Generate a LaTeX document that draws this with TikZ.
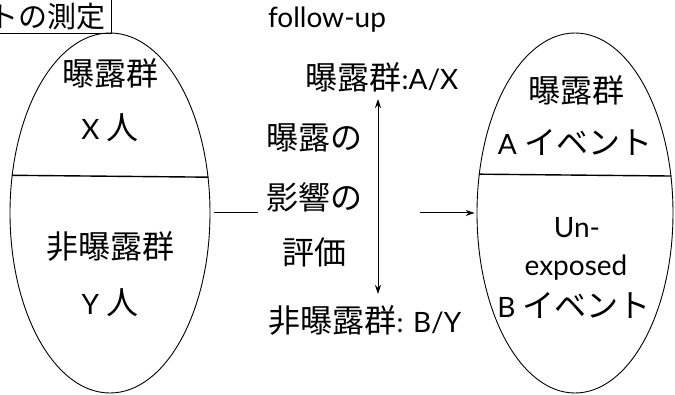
\documentclass[tikz,border=0pt]{standalone}
\usepackage{fontspec}
\setmainfont{Lato}
\newfontfamily\cjk{Noto Sans CJK JP}
\newcommand\jptext[1]{{\cjk\fontsize{32}{36}\selectfont #1}}
\usetikzlibrary{shapes.geometric,arrows.meta}
\tikzset{
  oval/.style={ellipse, draw, line width=0.9pt, inner sep=0pt},
  txt/.style={inner sep=0pt, font=\fontsize{28}{32}\selectfont},
  jp/.style={inner sep=0pt, font=\cjk\fontsize{32}{36}\selectfont},
  divline/.style={line width=1.4pt},
  conn/.style={line width=1pt},
  tip/.style={-{Stealth[length=9pt,width=6pt]}}
}
\begin{document}
\begin{tikzpicture}[x=1pt,y=-1pt]
\useasboundingbox (0,0) rectangle (675,395);
\clip (0,0) rectangle (675,395);

% top-left box
\node[draw, line width=0.8pt, anchor=north east, minimum height=34pt, inner xsep=6pt,
      font=\cjk\fontsize{29}{32}\selectfont] (box) at (112,-1) {トの測定};

% ellipses
\node[oval, minimum width=200pt, minimum height=360pt] (L) at (110,213) {};
\node[oval, minimum width=196pt, minimum height=360pt] (R) at (575,213) {};
\draw[divline] (L.159.3) -- (L.20.7);
\draw[divline] (R.158.9) -- (R.21.1);

% left texts
\node[jp] (l1) at (110,73) {曝露群};
\node[txt] (l2) at (110,128) {X \jptext{人}};
\node[jp] (l3) at (110,247) {非曝露群};
\node[txt] (l4) at (110,303) {Y \jptext{人}};

% right texts
\node[jp] (r1) at (576,90) {曝露群};
\node[txt] (r2) at (575,142) {A \jptext{イベント}};
\node[txt] (r3) at (577,228) {Un-};
\node[txt] (r4) at (576,268) {exposed};
\node[txt] (r5) at (574,305) {B \jptext{イベント}};

% middle
\node[txt] (fu) at (327,20) {follow-up};
\node[txt] (ax) at (382,77) {\jptext{曝露群}:A/X};
\node[txt] (by) at (365,321) {\jptext{非曝露群}: B/Y};
\node[jp] (m1) at (314,138) {曝露の};
\node[jp] (m2) at (314,197) {影響の};
\node[jp] (m3) at (314,252) {評価};

\coordinate (vt) at (378,99);
\coordinate (vb) at (378,294);
\draw[conn, {Stealth[length=9pt,width=6pt]}-{Stealth[length=9pt,width=6pt]}] (vt) -- (vb);

\coordinate (h1) at (258,213);
\coordinate (h2) at (420,213);
\draw[conn, shorten <=4pt] (L.east) -- (h1);
\draw[conn, tip, shorten >=2pt] (h2) -- (R.west);
\end{tikzpicture}
\end{document}
